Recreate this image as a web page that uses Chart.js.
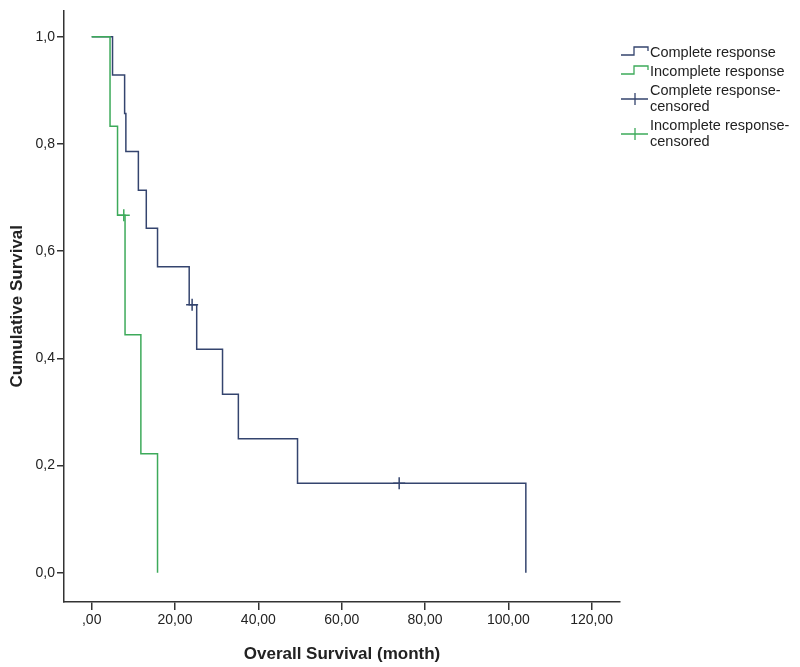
<!DOCTYPE html>
<html>
<head>
<meta charset="utf-8">
<script src="https://cdn.jsdelivr.net/npm/chart.js@4/dist/chart.umd.min.js"></script>
<style>
  html, body { margin: 0; padding: 0; background: #fff; }
  #wrap { position: relative; width: 800px; height: 667px; }
  #legend { position: absolute; left: 620px; top: 44px; font-family: "Liberation Sans", Arial, sans-serif; font-size: 14.5px; color: #222; line-height: 16px; }
  .item { display: flex; align-items: center; margin-bottom: 3px; }
  .item svg { flex: none; width: 30px; }
</style>
</head>
<body>
<div id="wrap">
  <canvas id="c" width="800" height="667"></canvas>
  <div id="legend">
    <div class="item"><svg height="14" viewBox="0 0 30 14"><path d="M1,10 H14 V2 H28 V6" fill="none" stroke="#34446e" stroke-width="1.3"/></svg><span>Complete response</span></div>
    <div class="item"><svg height="14" viewBox="0 0 30 14"><path d="M1,10 H14 V2 H28 V6" fill="none" stroke="#3daa5a" stroke-width="1.3"/></svg><span>Incomplete response</span></div>
    <div class="item"><svg height="32" viewBox="0 0 30 32"><path d="M1,17 H28 M15,11 V23" fill="none" stroke="#34446e" stroke-width="1.3"/></svg><span>Complete response-<br>censored</span></div>
    <div class="item"><svg height="32" viewBox="0 0 30 32"><path d="M1,17 H28 M15,11 V23" fill="none" stroke="#3daa5a" stroke-width="1.3"/></svg><span>Incomplete response-<br>censored</span></div>
  </div>
</div>
<script>
// Kaplan-Meier step data (time in months, cumulative survival)
const completeTimes    = [0, 5.0, 7.9, 8.2, 11.2, 13.1, 15.8, 23.4, 25.2, 31.4, 35.2, 49.4, 104.2];
const completeSurvival = [1.0, 0.929, 0.857, 0.786, 0.714, 0.643, 0.571, 0.500, 0.417, 0.333, 0.250, 0.167, 0.0];
const incompleteTimes    = [0, 4.4, 6.2, 8.0, 11.8, 15.8];
const incompleteSurvival = [1.0, 0.833, 0.667, 0.444, 0.222, 0.0];
const completeCensTimes = [24.1, 73.8];
const completeCensSurv  = [0.500, 0.167];
const incompleteCensTimes = [7.7];
const incompleteCensSurv  = [0.667];
const xTickValues = [0, 20, 40, 60, 80, 100, 120];
const yTickValues = [0, 0.2, 0.4, 0.6, 0.8, 1.0];

const C_COMPLETE = '#34446e';
const C_INCOMPLETE = '#3daa5a';

const pts = (xs, ys) => xs.map((x, i) => ({ x: x, y: ys[i] }));

const FONT = "'Liberation Sans', Arial, sans-serif";

new Chart(document.getElementById('c'), {
  type: 'line',
  data: {
    datasets: [
      { label: 'Complete response', data: pts(completeTimes, completeSurvival), stepped: 'before', order: 2,
        borderColor: C_COMPLETE, borderWidth: 1.5, pointRadius: 0, fill: false },
      { label: 'Incomplete response', data: pts(incompleteTimes, incompleteSurvival), stepped: 'before', order: 1,
        borderColor: C_INCOMPLETE, borderWidth: 1.5, pointRadius: 0, fill: false },
      { label: 'Complete response-censored', data: pts(completeCensTimes, completeCensSurv), showLine: false, order: 0,
        pointStyle: 'cross', pointRadius: 6, borderColor: C_COMPLETE, pointBorderWidth: 1.5, backgroundColor: C_COMPLETE },
      { label: 'Incomplete response-censored', data: pts(incompleteCensTimes, incompleteCensSurv), showLine: false, order: 0,
        pointStyle: 'cross', pointRadius: 6, borderColor: C_INCOMPLETE, pointBorderWidth: 1.5, backgroundColor: C_INCOMPLETE }
    ]
  },
  options: {
    responsive: false,
    animation: false,
    layout: { padding: { top: 2, right: 180, left: 0, bottom: 0 } },
    plugins: { legend: { display: false }, tooltip: { enabled: false } },
    scales: {
      x: {
        type: 'linear', min: -6.65, max: 126.8,
        afterBuildTicks: s => { s.ticks = xTickValues.map(v => ({ value: v })); },
        afterFit: s => { s.height = 65; },
        ticks: { color: '#222', font: { family: FONT, size: 14 }, padding: 2, maxRotation: 0, autoSkip: false,
          callback: v => v === 0 ? ',00' : v.toFixed(2).replace('.', ',') },
        grid: { drawOnChartArea: false, drawTicks: true, tickLength: 8, color: '#333', lineWidth: 1.5 },
        border: { display: true, color: '#333', width: 1.5 },
        title: { display: true, text: 'Overall Survival (month)', color: '#222',
          font: { family: FONT, size: 17, weight: 'bold' }, padding: { top: 0, bottom: 2 } }
      },
      y: {
        type: 'linear', min: -0.0546, max: 1.0494,
        afterBuildTicks: s => { s.ticks = yTickValues.map(v => ({ value: v })); },
        afterFit: s => { s.width = 64; },
        ticks: { color: '#222', font: { family: FONT, size: 14 }, padding: 2, autoSkip: false,
          callback: v => v.toFixed(1).replace('.', ',') },
        grid: { drawOnChartArea: false, drawTicks: true, tickLength: 7, color: '#333', lineWidth: 1.5 },
        border: { display: true, color: '#333', width: 1.5 },
        title: { display: true, text: 'Cumulative Survival', color: '#222',
          font: { family: FONT, size: 17, weight: 'bold' }, padding: { top: 7, bottom: 0 } }
      }
    }
  }
});
</script>
</body>
</html>
